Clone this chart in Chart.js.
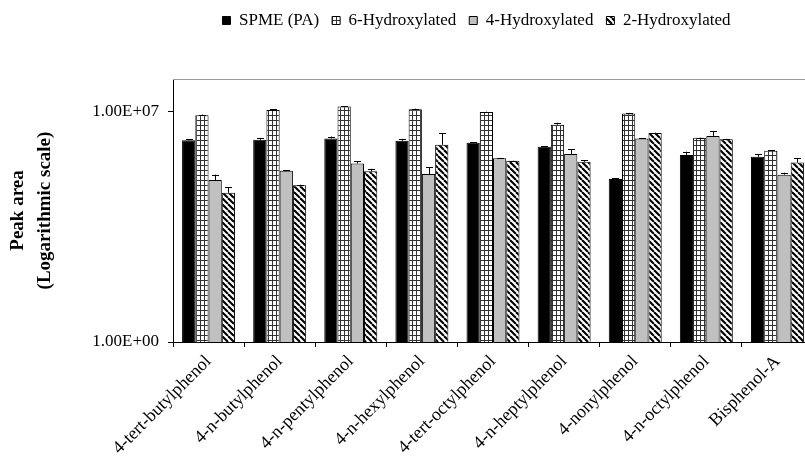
<!DOCTYPE html>
<html><head><meta charset="utf-8">
<script src="https://cdn.jsdelivr.net/npm/chart.js@4"></script>
<style>
html,body{margin:0;padding:0;background:#fff;overflow:hidden;width:805px;height:463px}
#wrap{width:813px;height:463px}
</style>
</head><body><div id="wrap"><canvas id="c" width="813" height="463"></canvas></div>
<script>
const categories = ['4-tert-butylphenol','4-n-butylphenol','4-n-pentylphenol','4-n-hexylphenol','4-tert-octylphenol','4-n-heptylphenol','4-nonylphenol','4-n-octylphenol','Bisphenol-A'];
const seriesNames = ['SPME (PA)','6-Hydroxylated','4-Hydroxylated','2-Hydroxylated'];
const spme        = [1.38e6,1.41e6,1.55e6,1.32e6,1.15e6,8.7e5,9.1e4,4.9e5,4.3e5];
const spmeErr     = [6.5e4,2.1e5,2.3e5,1.9e5,5e4,4e4,4.5e3,1.27e5,9.5e4];
const hydroxy6    = [7.94e6,1.15e7,1.45e7,1.2e7,1.0e7,4.07e6,8.9e6,1.62e6,6.6e5];
const hydroxy6Err = [3.7e5,5.4e5,3.4e5,5.6e5,2.3e5,6.1e5,4.2e5,3.7e4,1.5e4];
const hydroxy4    = [8.5e4,1.62e5,2.69e5,1.29e5,3.89e5,5.25e5,1.55e6,1.86e6,1.23e5];
const hydroxy4Err = [3.8e4,4e3,4.7e4,7.5e4,9e3,2.16e5,3.6e4,7.7e5,1.8e4];
const hydroxy2    = [3.47e4,5.9e4,1.55e5,1.0e6,3.24e5,3.02e5,2.29e6,1.48e6,2.88e5];
const hydroxy2Err = [1.66e4,1.4e3,3.1e4,1.24e6,7.5e3,3.7e4,5.3e4,3.4e4,1.01e5];
const yTickValues = [1, 1e7];
const yTickLabels = ['1.00E+00','1.00E+07'];
const yAxisTitle = ['Peak area','(Logarithmic scale)'];

const ctx = document.getElementById('c').getContext('2d');

function gridPattern(){
  const c=document.createElement('canvas'); c.width=4; c.height=5;
  const g=c.getContext('2d');
  g.fillStyle='#fff'; g.fillRect(0,0,4,5);
  g.fillStyle='#333'; g.fillRect(0,0,1,5); g.fillRect(0,0,4,1);
  return ctx.createPattern(c,'repeat');
}
function hatchPattern(){
  const s=6; const c=document.createElement('canvas'); c.width=s; c.height=s;
  const g=c.getContext('2d');
  g.fillStyle='#fff'; g.fillRect(0,0,s,s);
  g.strokeStyle='#000'; g.lineWidth=2.1;
  for (const x0 of [-s,0,s]) { g.beginPath(); g.moveTo(x0,0); g.lineTo(x0+s,s); g.stroke(); }
  return ctx.createPattern(c,'repeat');
}

const errors = [spmeErr, hydroxy6Err, hydroxy4Err, hydroxy2Err];

const errorBars = {
  id:'errorBars',
  afterDatasetsDraw(chart){
    const c=chart.ctx, y=chart.scales.y;
    c.save(); c.strokeStyle='#000'; c.lineWidth=1;
    chart.data.datasets.forEach((ds,i)=>{
      const meta=chart.getDatasetMeta(i);
      meta.data.forEach((bar,j)=>{
        const top=y.getPixelForValue(ds.data[j]+errors[i][j]);
        const x=Math.round(bar.x)+0.5;
        c.beginPath(); c.moveTo(x,bar.y); c.lineTo(x,top);
        c.moveTo(x-3.5,Math.round(top)+0.5); c.lineTo(x+3.5,Math.round(top)+0.5); c.stroke();
      });
    });
    c.restore();
  }
};
const frame = {
  id:'frame',
  beforeDatasetsDraw(chart){
    const a=chart.chartArea, c=chart.ctx;
    c.save(); c.strokeStyle='#999'; c.lineWidth=1;
    c.beginPath(); c.moveTo(a.left,Math.round(a.top)+0.5); c.lineTo(a.right,Math.round(a.top)+0.5);
    c.moveTo(Math.round(a.right)-0.5,a.top); c.lineTo(Math.round(a.right)-0.5,a.bottom); c.stroke();
    c.restore();
  }
};
const legendPlace = {
  id:'legendPlace',
  beforeLayout(chart){
    const lg=chart.legend;
    if (lg && !lg._wrapped){ const f=lg.fit.bind(lg); lg.fit=function(){ f(); this.height=79; }; lg._wrapped=true; }
  },
  afterLayout(chart){
    const lg=chart.legend; if(!lg) return;
    lg.left+=70; lg.right+=70; lg.top-=1; lg.bottom-=1;
  }
};

const fills=['#000', gridPattern(), '#c0c0c0', hatchPattern()];
const seriesData=[spme,hydroxy6,hydroxy4,hydroxy2];

new Chart(ctx,{
  type:'bar',
  data:{
    labels:categories,
    datasets:seriesNames.map((n,i)=>({
      label:n, data:seriesData[i], backgroundColor:fills[i], borderColor:'#000', borderWidth:1,
      categoryPercentage:0.745, barPercentage:1.0
    }))
  },
  options:{
    responsive:false, animation:false, devicePixelRatio:1,
    layout:{padding:0},
    plugins:{
      legend:{
        position:'top',
        labels:{color:'#000', font:{family:'Liberation Serif', size:17}, boxWidth:8, boxHeight:8, padding:13}
      },
      tooltip:{enabled:false}
    },
    scales:{
      x:{
        grid:{display:true, drawOnChartArea:false, tickLength:5, color:'#000', offset:true},
        border:{color:'#000', width:1},
        ticks:{color:'#000', font:{family:'Liberation Serif', size:18}, minRotation:45, maxRotation:45, padding:4, autoSkip:false},
        afterFit(s){ s.height=121; }
      },
      y:{
        type:'logarithmic', min:1, max:1e8,
        grid:{display:true, drawOnChartArea:false, tickLength:5, color:'#000'},
        border:{color:'#000', width:1},
        afterBuildTicks(s){ s.ticks=yTickValues.map(v=>({value:v})); },
        ticks:{color:'#000', font:{family:'Liberation Serif', size:17}, padding:9,
          callback:(v)=>{ const k=yTickValues.indexOf(v); return k>=0?yTickLabels[k]:''; }},
        title:{display:true, text:yAxisTitle, color:'#000', font:{family:'Liberation Serif', size:19, weight:'bold', lineHeight:1.4}, padding:{top:5,bottom:0}},
        afterFit(s){ s.width=173; }
      }
    }
  },
  plugins:[errorBars, frame, legendPlace]
});
</script>
</body></html>
